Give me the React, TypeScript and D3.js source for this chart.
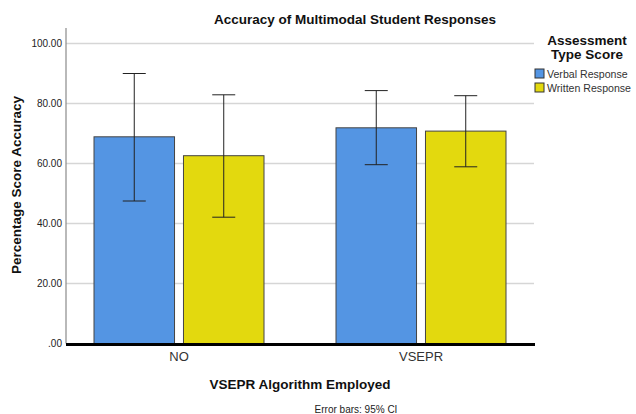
import React from "react";
import * as d3 from "d3";

const categories = ["NO", "VSEPR"];
const seriesNames = ["Verbal Response", "Written Response"];
const verbalMeans = [68.9, 71.9];
const writtenMeans = [62.6, 70.8];
const verbalLow = [47.5, 59.6];
const verbalHigh = [90.0, 84.3];
const writtenLow = [42.1, 58.9];
const writtenHigh = [82.9, 82.6];
const yTicks = [0, 20, 40, 60, 80, 100];
const colors = ["#5495e3", "#e3d90e"];

const W = 636, H = 414;
const plotLeft = 66, plotRight = 534, plotTop = 28;
const font = "'Liberation Sans', Arial, sans-serif";

export default function App() {
  const y = d3.scaleLinear().domain([0, 100]).range([343.5, 43.5]);
  const x0 = d3.scaleBand<string>().domain(categories).range([58, 542]).padding(0);
  const x1 = d3.scaleBand<string>().domain(seriesNames).range([-85, 85]).paddingInner(0.1);
  const means = [verbalMeans, writtenMeans];
  const lows = [verbalLow, writtenLow];
  const highs = [verbalHigh, writtenHigh];
  const fmt = (v: number) => (v === 0 ? ".00" : v.toFixed(2));

  return (
    <svg width={W} height={H} style={{ position: "absolute", left: 0, top: 0, background: "#fff" }} fontFamily={font}>
      <text x={355} y={24} textAnchor="middle" fontWeight="bold" fontSize={13.5} fill="#111">
        Accuracy of Multimodal Student Responses
      </text>
      {yTicks.filter(t => t > 0).map(t => (
        <line key={t} x1={plotLeft} x2={plotRight} y1={y(t)} y2={y(t)} stroke="#d6d6d6" strokeWidth={1.5} />
      ))}
      <line x1={plotLeft} x2={plotLeft} y1={plotTop} y2={y(0)} stroke="#8a8a8a" strokeWidth={1.2} />
      {yTicks.map(t => (
        <text key={t} x={62} y={y(t) + 3.5} textAnchor="end" fontSize={10} fill="#222">{fmt(t)}</text>
      ))}
      <text transform={`translate(21,${185}) rotate(-90)`} textAnchor="middle" fontWeight="bold" fontSize={13.5} fill="#111">
        Percentage Score Accuracy
      </text>
      {categories.map((c, ci) => (
        <g key={c} transform={`translate(${(x0(c) as number) + x0.bandwidth() / 2},0)`}>
          {seriesNames.map((s, si) => {
            const bx = x1(s) as number;
            const bw = x1.bandwidth();
            const cx = bx + bw / 2;
            return (
              <g key={s}>
                <rect x={bx} y={y(means[si][ci])} width={bw} height={y(0) - y(means[si][ci])}
                  fill={colors[si]} stroke="#444" strokeWidth={1} />
                <line x1={cx} x2={cx} y1={y(highs[si][ci])} y2={y(lows[si][ci])} stroke="#222" strokeWidth={1} />
                <line x1={cx - 11.5} x2={cx + 11.5} y1={y(highs[si][ci])} y2={y(highs[si][ci])} stroke="#222" strokeWidth={1} />
                <line x1={cx - 11.5} x2={cx + 11.5} y1={y(lows[si][ci])} y2={y(lows[si][ci])} stroke="#222" strokeWidth={1} />
              </g>
            );
          })}
          <text x={0} y={361} textAnchor="middle" fontSize={13} fill="#333">{c}</text>
        </g>
      ))}
      <line x1={plotLeft} x2={plotRight + 1} y1={y(0) + 1} y2={y(0) + 1} stroke="#000" strokeWidth={3} />
      <text x={300} y={389} textAnchor="middle" fontWeight="bold" fontSize={13.5} fill="#111">
        VSEPR Algorithm Employed
      </text>
      <text x={356} y={413} textAnchor="middle" fontSize={10} fill="#222">Error bars: 95% CI</text>
      <text x={587} y={45} textAnchor="middle" fontWeight="bold" fontSize={13.5} fill="#111">Assessment</text>
      <text x={587} y={59} textAnchor="middle" fontWeight="bold" fontSize={13.5} fill="#111">Type Score</text>
      {seriesNames.map((s, i) => (
        <g key={s} transform={`translate(535,${69 + i * 14})`}>
          <rect x={0} y={0} width={9} height={9} fill={colors[i]} stroke="#333" strokeWidth={1} />
          <text x={12} y={9} fontSize={10.6} fill="#333">{s}</text>
        </g>
      ))}
    </svg>
  );
}
